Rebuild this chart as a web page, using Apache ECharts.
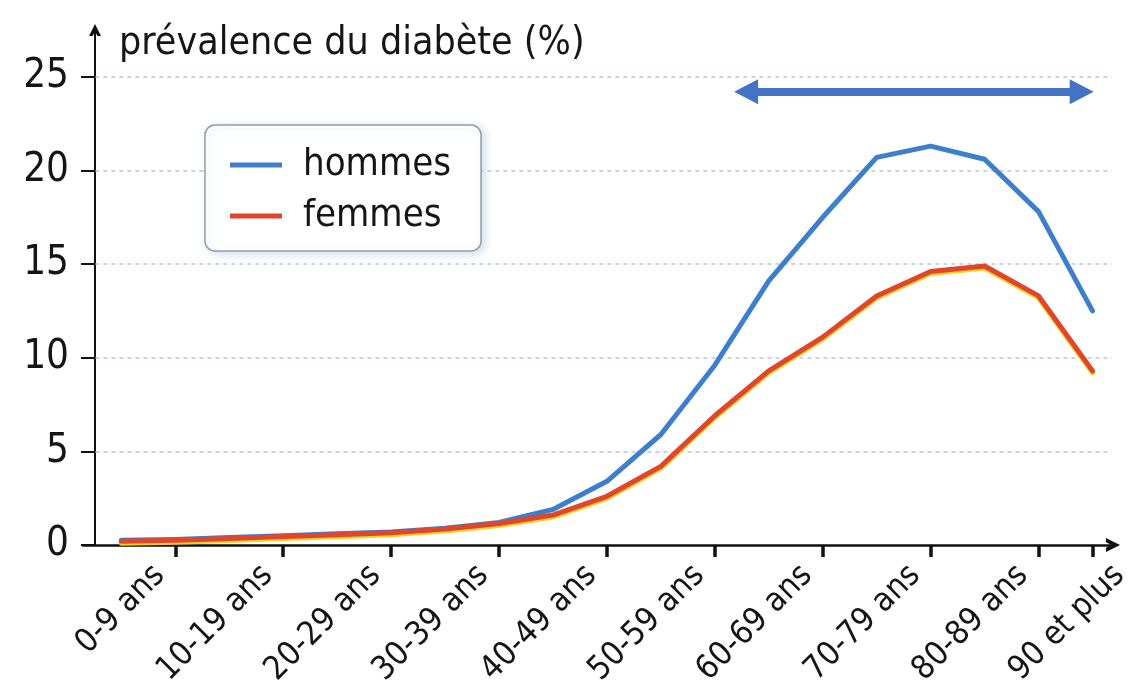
<!DOCTYPE html>
<html>
<head>
<meta charset="utf-8">
<script src="https://cdn.jsdelivr.net/npm/echarts@6/dist/echarts.min.js"></script>
<style>html,body{margin:0;padding:0;background:#fff}#c{width:1130px;height:686px}</style>
</head>
<body>
<div id="c"></div>
<script>
// ---- data ----
const ages = [0, 5, 10, 15, 20, 25, 30, 35, 40, 45, 50, 55, 60, 65, 70, 75, 80, 85, 90];
const hommes = [0.25, 0.3, 0.4, 0.5, 0.6, 0.7, 0.9, 1.2, 1.9, 3.4, 5.9, 9.6, 14.1, 17.5, 20.7, 21.3, 20.6, 17.8, 12.5];
const femmes = [0.2, 0.25, 0.35, 0.45, 0.55, 0.65, 0.85, 1.15, 1.6, 2.6, 4.2, 6.9, 9.3, 11.1, 13.3, 14.6, 14.9, 13.3, 9.3];
const xTickPos = [5, 15, 25, 35, 45, 55, 65, 75, 85, 90];
const xTickLabels = ['0-9 ans', '10-19 ans', '20-29 ans', '30-39 ans', '40-49 ans', '50-59 ans', '60-69 ans', '70-79 ans', '80-89 ans', '90 et plus'];
const yTicks = [0, 5, 10, 15, 20, 25];
const gridValues = [5, 10, 15, 20, 25];
const gridSpan = [-2.4, 91.8];
const arrowSpan = [57.9, 89.0];
const arrowLevel = 24.2;
const seriesNames = ['hommes', 'femmes'];
const titleText = 'prévalence du diabète (%)';

const FONT = "'DejaVu Sans Condensed', 'DejaVu Sans', sans-serif";
const chevron = 'path://M0,12 L6,0 L12,12 L8.4,12 L6,7.2 L3.6,12 Z';

const chart = echarts.init(document.getElementById('c'), null, {renderer: 'canvas'});
chart.setOption({
  animation: false,
  backgroundColor: '#ffffff',
  title: {
    text: titleText,
    left: 119, top: 24, padding: 0,
    textStyle: {fontFamily: FONT, fontSize: 39, fontWeight: 'normal', color: '#161616'}
  },
  legend: {
    data: seriesNames,
    orient: 'vertical',
    left: 205, top: 125,
    padding: [21, 30, 16, 25],
    icon: 'rect',
    itemWidth: 52, itemHeight: 5, itemGap: 13,
    backgroundColor: '#ffffff',
    borderColor: '#9a9a9a', borderWidth: 1.5, borderRadius: 10,
    shadowColor: 'rgba(140,185,225,0.45)', shadowBlur: 8, shadowOffsetX: 3, shadowOffsetY: 2,
    textStyle: {fontFamily: FONT, fontSize: 38, color: '#151515', padding: [0, 0, 0, 16]}
  },
  grid: {left: 83, right: 17, top: 30, bottom: 141, containLabel: false, outerBoundsMode: 'none'},
  xAxis: {
    type: 'value', min: -3.55, max: 91.9,
    axisLine: {show: true, onZero: false, symbol: ['none', chevron], symbolSize: [24, 14],
      lineStyle: {color: '#111', width: 2.5}},
    axisTick: {show: true, customValues: xTickPos, length: 12, lineStyle: {color: '#111', width: 3.5}},
    axisLabel: {
      customValues: xTickPos,
      formatter: (v) => {
        const i = xTickPos.indexOf(v);
        return (i === xTickPos.length - 1 ? '{l|' : '{n|') + xTickLabels[i] + '}';
      },
      rotate: 45, margin: 10,
      fontFamily: FONT, fontSize: 33, color: '#151515',
      rich: {
        n: {fontFamily: FONT, fontSize: 33, color: '#151515', padding: [0, 22, 0, 0]},
        l: {fontFamily: FONT, fontSize: 33, color: '#151515', padding: [60, -8, 0, 0]}
      }
    },
    splitLine: {show: false}
  },
  yAxis: {
    type: 'value', min: 0, max: 27.5, interval: 5, offset: -12,
    axisLine: {show: true, onZero: false, symbol: ['none', chevron], symbolSize: [15, 12],
      lineStyle: {color: '#111', width: 2}},
    axisTick: {show: true, customValues: yTicks, length: 14, lineStyle: {color: '#111', width: 2}},
    axisLabel: {customValues: yTicks, margin: 26, fontFamily: FONT, fontSize: 40, color: '#151515'},
    splitLine: {show: false}
  },
  series: [
    {
      name: 'arrow', type: 'line', data: [], z: 12, silent: true,
      markLine: {
        silent: true, z: 12, symbol: ['triangle', 'triangle'], symbolSize: [25, 24],
        label: {show: false},
        lineStyle: {color: '#4472c4', type: 'solid', width: 8},
        itemStyle: {color: '#4472c4'},
        data: [[{coord: [arrowSpan[0], arrowLevel]}, {coord: [arrowSpan[1], arrowLevel]}]]
      }
    },
    {
      name: seriesNames[0], type: 'line', z: 10,
      data: ages.map((a, i) => [a, hommes[i]]),
      showSymbol: false, symbol: 'none',
      color: '#3d7fcc',
      lineStyle: {color: '#3d7fcc', width: 5, join: 'round', cap: 'round'},
      markLine: {
        silent: true, z: 1, symbol: ['none', 'none'], label: {show: false},
        lineStyle: {color: '#b9c7db', type: [4, 4], width: 1.5},
        data: gridValues.map(v => [{coord: [gridSpan[0], v]}, {coord: [gridSpan[1], v]}])
      }
    },
    {
      name: seriesNames[1], type: 'line', z: 11,
      data: ages.map((a, i) => [a, femmes[i]]),
      showSymbol: false, symbol: 'none',
      color: '#e0462b',
      lineStyle: {color: '#e0462b', width: 5, join: 'round', cap: 'round',
        shadowColor: '#f3d024', shadowBlur: 0, shadowOffsetY: 2}
    }
  ]
});
</script>
</body>
</html>
